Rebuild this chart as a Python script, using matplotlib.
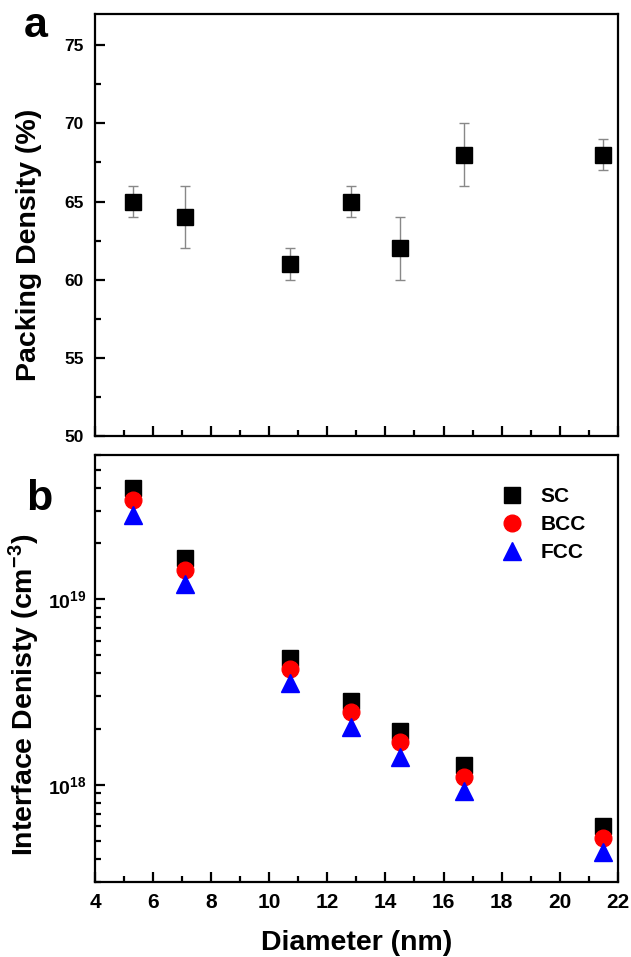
import numpy as np
import matplotlib
matplotlib.use("Agg")
from matplotlib import pyplot as plt
from matplotlib.ticker import MultipleLocator, LogLocator, NullFormatter

plt.rcParams['font.family'] = ['Liberation Sans', 'DejaVu Sans']
plt.rcParams['font.weight'] = 'bold'
plt.rcParams['mathtext.fontset'] = 'custom'
plt.rcParams['mathtext.rm'] = 'Liberation Sans:bold'
plt.rcParams['mathtext.bf'] = 'Liberation Sans:bold'
plt.rcParams['mathtext.default'] = 'bf'

# Data
diameter = [5.3, 7.1, 10.7, 12.8, 14.5, 16.7, 21.5]
packing = [65, 64, 61, 65, 62, 68, 68]
packing_err = [1, 2, 1, 1, 2, 2, 1]

sc = [4.0e19, 1.67e19, 4.83e18, 2.85e18, 1.96e18, 1.28e18, 6.0e17]
bcc = [3.45e19, 1.44e19, 4.22e18, 2.47e18, 1.70e18, 1.11e18, 5.2e17]
fcc = [2.85e19, 1.21e19, 3.55e18, 2.06e18, 1.42e18, 9.3e17, 4.37e17]

fig = plt.figure()
fig.set_size_inches(6.31, 9.57)

def style_axes(ax):
    for s in ax.spines.values():
        s.set_linewidth(1.6)
    ax.tick_params(which='both', direction='in', top=False, right=False,
                   width=1.6)
    ax.tick_params(which='major', length=7)
    ax.tick_params(which='minor', length=4.5)

# Panel a
ax1 = fig.add_axes([0.1506, 0.5444, 0.8284, 0.4410])
ax1.errorbar(diameter, packing, yerr=packing_err, fmt='s', color='black',
             ms=11, ecolor='#888888', elinewidth=1, capsize=3.5, capthick=1)
ax1.set_xlim(4, 22)
ax1.set_ylim(50, 77)
ax1.xaxis.set_major_locator(MultipleLocator(2))
ax1.xaxis.set_minor_locator(MultipleLocator(1))
ax1.yaxis.set_major_locator(MultipleLocator(5))
ax1.yaxis.set_minor_locator(MultipleLocator(2.5))
ax1.set_xticklabels([])
style_axes(ax1)
ax1.tick_params(axis='y', labelsize=12.5, pad=8)
ax1.set_ylabel('Packing Density (%)', fontsize=20.5, fontweight='bold')
ax1.yaxis.set_label_coords(-0.101, 0.454)
fig.text(0.038, 0.961, 'a', fontsize=31, fontweight='bold')

# Panel b
ax2 = fig.add_axes([0.1506, 0.0784, 0.8284, 0.4462])
ax2.plot(diameter, sc, 's', color='black', ms=11, label='SC', linestyle='none')
ax2.plot(diameter, bcc, 'o', color='red', ms=12, label='BCC', linestyle='none')
ax2.plot(diameter, fcc, '^', color='blue', ms=13, label='FCC', linestyle='none')
ax2.set_yscale('log')
ax2.set_xlim(4, 22)
ax2.set_ylim(3e17, 6e19)
ax2.xaxis.set_major_locator(MultipleLocator(2))
ax2.xaxis.set_minor_locator(MultipleLocator(1))
ax2.yaxis.set_major_locator(LogLocator(base=10))
ax2.yaxis.set_minor_locator(LogLocator(base=10, subs=np.arange(2, 10)))
ax2.yaxis.set_minor_formatter(NullFormatter())
style_axes(ax2)
ax2.tick_params(axis='x', labelsize=15, pad=8)
ax2.tick_params(axis='y', labelsize=14, pad=6)
ax2.set_xlabel('Diameter (nm)', fontsize=20.5, fontweight='bold', labelpad=13)
ax2.set_ylabel('Interface Denisty (cm$^{-3}$)', fontsize=20.5, fontweight='bold')
ax2.yaxis.set_label_coords(-0.101, 0.438)
ax2.legend(loc='upper right', frameon=False, fontsize=15, handletextpad=0.35,
           borderaxespad=0.5, labelspacing=0.42, bbox_to_anchor=(0.975, 0.968))
fig.text(0.042, 0.467, 'b', fontsize=31, fontweight='bold')

plt.savefig('out.png', dpi=100)
